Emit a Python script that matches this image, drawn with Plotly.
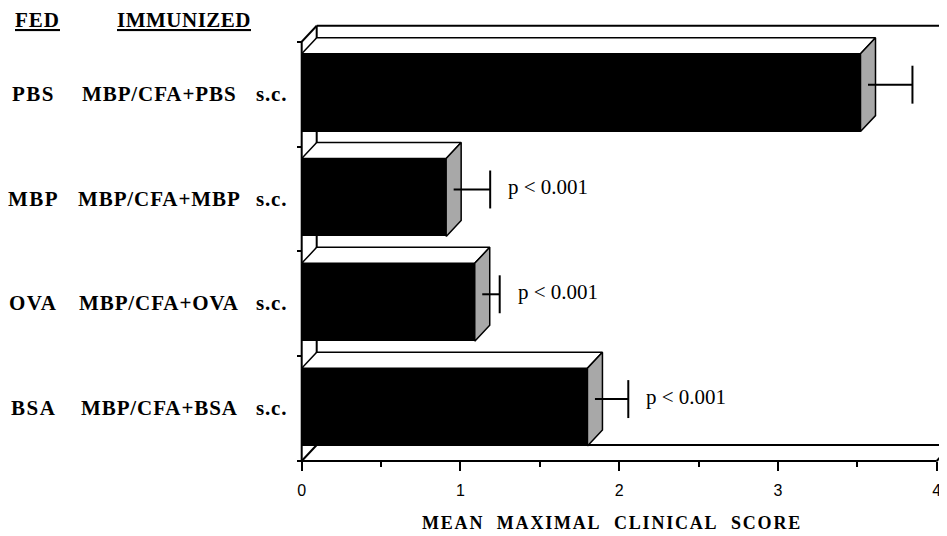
import plotly.graph_objects as go

# ---------------- data ----------------
fed = ["PBS", "MBP", "OVA", "BSA"]
immunized = ["MBP/CFA+PBS", "MBP/CFA+MBP", "MBP/CFA+OVA", "MBP/CFA+BSA"]
route = ["s.c.", "s.c.", "s.c.", "s.c."]
mean_score = [3.52, 0.91, 1.09, 1.80]
sem = [0.28, 0.23, 0.11, 0.21]
p_labels = ["", "p < 0.001", "p < 0.001", "p < 0.001"]
x_tick_values = [0, 1, 2, 3, 4]
headers = ["FED", "IMMUNIZED"]
x_title = "MEAN MAXIMAL CLINICAL SCORE"

# ---------------- geometry / style ----------------
OFF = 8                    # page body margin of the html page
W, H = 947 - OFF, 536 - OFF
ML, MR, MT, MB = 292 - OFF, 0, 18 - OFF, 70
plot_w = W - ML - MR
plot_h = H - MT - MB
PX_X = 158.75              # pixels per score unit
X0 = 301.7 - OFF           # pixel of score 0 (front plane)
PX_Y = 104.8               # pixels per category band
Y0 = 461.0 - OFF           # pixel of front floor
xr = [(ML - X0) / PX_X, (W - MR - X0) / PX_X]
yr = [(Y0 - (H - MB)) / PX_Y, (Y0 - MT) / PX_Y]
DX = 15 / PX_X             # depth offset (x)
DY = 16 / PX_Y             # depth offset (y)
n = len(fed)
xmax = x_tick_values[-1]
BAR_LO, BAR_HI = 0.143, 0.886
CAP = 0.181

serif = "Liberation Serif, Times New Roman, serif"
sans = "Liberation Sans, Arial, Helvetica, sans-serif"

fig = go.Figure()

# frame (walls / floor)
far = xr[1] + 1
fx = [DX, DX, None, DX, far, None, DX, far, None,
      0, 0, None, 0, DX, None, 0, DX, None, 0, xmax, None, xmax, xmax + DX]
fy = [DY, n + DY, None, n + DY, n + DY, None, DY, DY, None,
      0, n, None, n, n + DY, None, 0, DY, None, 0, 0, None, 0, DY]
fig.add_trace(go.Scatter(x=fx, y=fy, mode="lines", line=dict(color="black", width=2),
                         hoverinfo="skip", showlegend=False))

bands = [n - 1 - i for i in range(n)]
centers = [k + (BAR_LO + BAR_HI) / 2 for k in bands]

# front faces
fig.add_trace(go.Bar(x=mean_score, y=centers, orientation="h", width=BAR_HI - BAR_LO,
                     marker=dict(color="black", line=dict(width=0)), showlegend=False,
                     hoverinfo="skip"))

for i, v in enumerate(mean_score):
    k = bands[i]
    lo, hi = k + BAR_LO, k + BAR_HI
    # top face
    fig.add_trace(go.Scatter(x=[0, v, v + DX, DX, 0], y=[hi, hi, hi + DY, hi + DY, hi],
                             mode="lines", fill="toself", fillcolor="white",
                             line=dict(color="black", width=1.5), hoverinfo="skip",
                             showlegend=False))
    # side face
    fig.add_trace(go.Scatter(x=[v, v + DX, v + DX, v, v], y=[lo, lo + DY, hi + DY, hi, lo],
                             mode="lines", fill="toself", fillcolor="#a8a8a8",
                             line=dict(color="black", width=1.5), hoverinfo="skip",
                             showlegend=False))
    # error bar
    yc = centers[i] + DY / 2
    xs = v + DX / 2
    xe = xs + sem[i]
    fig.add_trace(go.Scatter(x=[xs, xe, None, xe, xe], y=[yc, yc, None, yc - CAP, yc + CAP],
                             mode="lines", line=dict(color="black", width=2),
                             hoverinfo="skip", showlegend=False))
    if p_labels[i]:
        fig.add_annotation(x=xe, y=yc, xref="x", yref="y", text=p_labels[i], showarrow=False,
                           xanchor="left", yanchor="middle", xshift=16, yshift=2,
                           font=dict(family=serif, size=21, color="black"))

def pxx(px):
    return (px - OFF - ML) / plot_w

def pxy(py):
    return (H - MB - (py - OFF)) / plot_h

def spaced(t, s):
    return '<span style="letter-spacing:%spx">%s</span>' % (s, t)

lab_font = dict(family=serif, size=21, color="black", weight="bold")
for i in range(n):
    y = centers[i] - 0.01
    fig.add_annotation(x=pxx(33), y=y, xref="paper", yref="y", text=spaced(fed[i], 1.5),
                       showarrow=False, xanchor="center", yanchor="middle", font=lab_font)
    fig.add_annotation(x=pxx(159), y=y, xref="paper", yref="y", text=spaced(immunized[i], 0.9),
                       showarrow=False, xanchor="center", yanchor="middle", font=lab_font)
    fig.add_annotation(x=pxx(289), y=y, xref="paper", yref="y", text=spaced(route[i], 0.8),
                       showarrow=False, xanchor="right", yanchor="middle", font=lab_font)

hdr_font = dict(family=serif, size=21, color="black", weight="bold", lineposition="under")
fig.add_annotation(x=pxx(37.5), y=pxy(20), xref="paper", yref="paper", text=spaced(headers[0], 1),
                   showarrow=False, xanchor="center", yanchor="middle", font=hdr_font)
fig.add_annotation(x=pxx(183.5), y=pxy(20), xref="paper", yref="paper", text=spaced(headers[1], 0.5),
                   showarrow=False, xanchor="center", yanchor="middle", font=hdr_font)

fig.add_annotation(x=pxx(612), y=pxy(523), xref="paper", yref="paper",
                   text=spaced(x_title.replace(" ", "\u00a0\u00a0"), 1.8), showarrow=False,
                   xanchor="center", yanchor="middle",
                   font=dict(family=serif, size=18, color="black", weight="bold"))

fig.update_layout(
    width=W, height=H, margin=dict(l=ML, r=MR, t=MT, b=MB, pad=0),
    paper_bgcolor="white", plot_bgcolor="white", showlegend=False, bargap=0,
    xaxis=dict(range=xr, anchor="free", position=(H - MB - Y0) / plot_h,
               showline=False, showgrid=False, zeroline=False,
               tickmode="array", tickvals=x_tick_values, ticktext=[str(t) for t in x_tick_values],
               ticks="outside", ticklen=9, tickwidth=2, tickcolor="black",
               ticklabelstandoff=6,
               tickfont=dict(family=sans, size=16, color="black"),
               minor=dict(tickmode="array", tickvals=[t + 0.5 for t in x_tick_values[:-1]],
                          ticks="outside", ticklen=5, tickwidth=2, tickcolor="black")),
    yaxis=dict(range=yr, anchor="free", position=(X0 - ML) / plot_w,
               showline=False, showgrid=False, zeroline=False,
               tickmode="array", tickvals=list(range(n + 1)),
               ticks="outside", ticklen=5, tickwidth=2, tickcolor="black",
               showticklabels=False),
)

fig.write_html("out.html")
